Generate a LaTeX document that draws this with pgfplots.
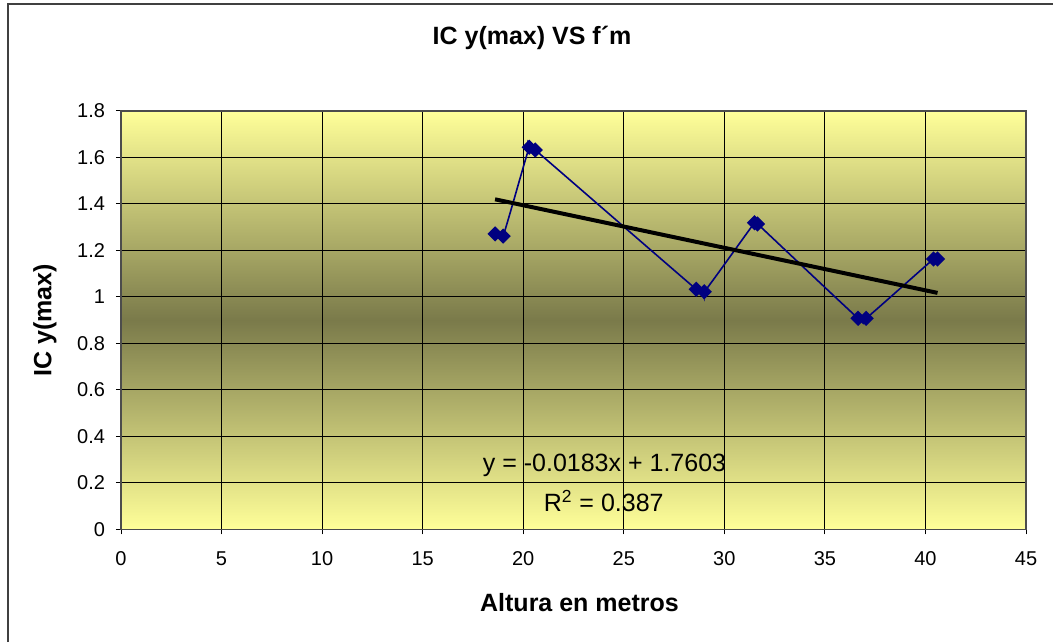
\documentclass[border=0pt]{standalone}
\usepackage{pgfplots}
\pgfplotsset{compat=1.18}
\usepackage{fontspec}
\setmainfont{Liberation Sans}
\definecolor{bgtop}{RGB}{255,255,153}
\definecolor{bgmid}{RGB}{122,122,74}
\definecolor{series}{RGB}{0,0,128}
\definecolor{framec}{RGB}{64,64,64}
\begin{document}
\begin{tikzpicture}[x=1pt,y=1pt]
\useasboundingbox (0,0) rectangle (526.5,321);
\draw[line width=1pt, framec] (4,0) -- (4,319) -- (526.5,319);
\node[font=\bfseries\fontsize{12.5}{15}\selectfont] at (266,302) {IC y(max) VS f´m};
\begin{axis}[
  at={(60.5pt,56.35pt)}, anchor=south west,
  scale only axis, width=452.5pt, height=209.15pt,
  xmin=0, xmax=45, ymin=0, ymax=1.8,
  xtick={0,5,...,45},
  ytick={0,0.2,0.4,0.6,0.8,1,1.2,1.4,1.6,1.8},
  yticklabels={0,0.2,0.4,0.6,0.8,1,1.2,1.4,1.6,1.8},
  tick align=outside, major tick length=2.5pt,
  tick style={black, line width=0.5pt},
  xtick pos=bottom, ytick pos=left,
  grid=major,
  major grid style={black, line width=0.5pt},
  axis line style={gray!60!black, line width=0.6pt},
  axis background/.style={top color=bgtop, bottom color=bgtop, middle color=bgmid},
  /pgf/number format/assume math mode=true,
  ticklabel style={font=\fontsize{10}{12}\selectfont},
  xticklabel style={yshift=-5pt},
  yticklabel style={xshift=-2pt},
  xlabel={Altura en metros},
  ylabel={IC y(max)},
  label style={font=\bfseries\fontsize{12.5}{15}\selectfont},
  xlabel style={at={(axis description cs:0.5066,-0.176)}, anchor=center},
  ylabel style={at={(axis description cs:-0.084,0.5)}, anchor=center},
  clip=false,
]
\addplot[series, line width=0.8pt, smooth, tension=0.3,
  mark=square*, mark size=2.3pt, mark options={rotate=45, fill=series, draw=series}]
  coordinates {
  (18.6,1.271) (19.0,1.262) (20.3,1.644) (20.6,1.632)
  (28.6,1.033) (29.0,1.022) (31.5,1.319) (31.65,1.314)
  (36.65,0.908) (37.05,0.908) (40.4,1.163) (40.6,1.163)
  };
\addplot[black, line width=2pt, no marks] coordinates {(18.6,1.4199) (40.6,1.0173)};
\node[font=\fontsize{12.5}{15}\selectfont] at (axis cs:24.04,0.277) {y = -0.0183x + 1.7603};
\node[font=\fontsize{12.5}{15}\selectfont] at (axis cs:24.0,0.122) {R\textsuperscript{2} = 0.387};
\end{axis}
\end{tikzpicture}
\end{document}
